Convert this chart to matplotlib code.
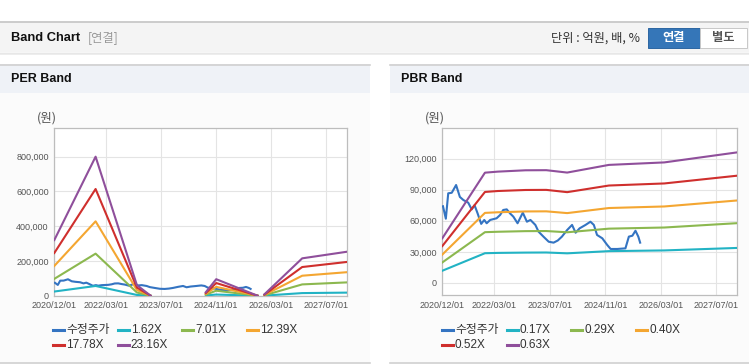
import matplotlib
matplotlib.use('Agg')
import matplotlib.pyplot as plt
import numpy as np
import pandas as pd
from matplotlib.patches import Rectangle
from matplotlib.lines import Line2D

W, H = 749, 364
nan = np.nan

# 수정주가 (adjusted price), same series on both charts
price_dates = ['2020-12-07', '2021-01-01', '2021-01-22', '2021-02-22', '2021-04-01', '2021-05-04',
               '2021-06-04', '2021-07-16', '2021-08-16', '2021-09-10', '2021-10-07', '2021-11-07',
               '2021-12-04', '2021-12-25', '2022-01-25', '2022-03-22', '2022-04-22', '2022-05-19',
               '2022-06-19', '2022-07-19', '2022-08-16', '2022-09-22', '2022-11-07', '2022-12-13',
               '2023-01-13', '2023-02-25', '2023-03-25', '2023-05-07', '2023-06-22', '2023-08-04',
               '2023-09-10', '2023-10-16', '2023-12-01', '2024-01-13', '2024-02-13', '2024-03-19',
               '2024-05-10', '2024-06-22', '2024-07-22', '2024-08-19', '2024-10-04', '2024-11-16',
               '2024-12-16', '2025-02-13', '2025-04-25', '2025-05-25', '2025-06-25', '2025-07-22',
               '2025-08-16', '2025-09-01']
price = [74000, 62000, 86500, 87000, 94500, 83000,
         80000, 77500, 71000, 75000, 67000, 57000,
         60800, 57600, 60800, 62400, 65600, 70400,
         71000, 67000, 64000, 57600, 67800, 59100,
         60800, 56000, 49500, 44700, 39800, 38900,
         41000, 44700, 51100, 56000, 48500, 52700,
         56000, 59100, 56000, 46300, 43100, 36700,
         32800, 32800, 33400, 44700, 45600, 50400,
         44700, 38900]

# PER band (nan = gap)
per_dates = ['2020-12-01', '2021-12-01', '2022-12-01', '2023-04-01', '2023-12-01',
             '2024-08-01', '2024-11-01', '2025-11-01', '2025-12-01',
             '2026-01-01', '2026-12-01', '2028-01-01']
per_labels = ['1.62X', '7.01X', '12.39X', '17.78X', '23.16X']
per_1 = [24000, 56000, 4300, 0, nan, 1400, 6600, 0, nan, 600, 15000, 17700]
per_2 = [96900, 242000, 18500, 0, nan, 6000, 28800, 0, nan, 2400, 65000, 76600]
per_3 = [171200, 428000, 32600, 0, nan, 10700, 50800, 0, nan, 4300, 115000, 135300]
per_4 = [245600, 614000, 46800, 0, nan, 15400, 72900, 0, nan, 6100, 165000, 194200]
per_5 = [320000, 800000, 61000, 0, nan, 20000, 95000, 0, nan, 8000, 215000, 253000]

# PBR band
pbr_dates = ['2020-12-01', '2021-12-10', '2022-04-01', '2022-12-01', '2023-06-01',
             '2023-12-01', '2024-12-01', '2026-04-01', '2028-01-01']
pbr_labels = ['0.17X', '0.29X', '0.40X', '0.52X', '0.63X']
pbr_1 = [11800, 28700, 29000, 29300, 29400, 28600, 30700, 31400, 33800]
pbr_2 = [19800, 49000, 49400, 50000, 50100, 48900, 52400, 53500, 57700]
pbr_3 = [27400, 67600, 68200, 69000, 69100, 67400, 72300, 73800, 79600]
pbr_4 = [35600, 87800, 88700, 89700, 89800, 87600, 94000, 96000, 103500]
pbr_5 = [43100, 106400, 107400, 108700, 108800, 106500, 113900, 116300, 126000]

xtick_dates = ['2020-12-01', '2022-03-01', '2023-07-01', '2024-11-01', '2026-03-01', '2027-07-01']
colors = ['#3474c2', '#22b3c4', '#8cb84f', '#f4a631', '#cf2f2d', '#8f4f9b']

LAT = ['Liberation Sans', 'Noto Sans CJK KR', 'DejaVu Sans']
KR = ['Noto Sans CJK KR', 'DejaVu Sans']

fig = plt.figure(figsize=(W / 100, H / 100), dpi=100)
fig.patch.set_facecolor('white')


def box(x0, y0, x1, y1, fc, ec='none', lw=0, z=-5):
    fig.patches.append(Rectangle((x0 / W, 1 - y1 / H), (x1 - x0) / W, (y1 - y0) / H,
                                 transform=fig.transFigure, facecolor=fc, edgecolor=ec,
                                 linewidth=lw, zorder=z))


def hline(x0, x1, y, color, lw=1):
    fig.lines.append(Line2D([x0 / W, x1 / W], [1 - y / H, 1 - y / H], transform=fig.transFigure,
                            color=color, linewidth=lw, zorder=-4))


def txt(x, y, s, **kw):
    fig.text(x / W, 1 - y / H, s, va='center', **kw)


# header bar
box(0, 22, W, 52, '#f4f4f4')
hline(0, W, 22, '#c4c4c4', 1.2)
hline(0, W, 52.5, '#d2d2d2', 1.0)
hline(0, W, 54, '#ececec', 1.2)
txt(11, 38, 'Band Chart', family=LAT, fontsize=9.3, fontweight='bold', color='#111111')
txt(88, 38, '[연결]', family=KR, fontsize=8.8, color='#999999')
txt(551, 38, '단위 : 억원, 배, %', family=KR, fontsize=8.8, color='#333333')
box(648, 28, 700, 48, '#3576b8', ec='#2c66a2', lw=0.7, z=-3)
box(700, 28, 747, 48, '#ffffff', ec='#c8c8c8', lw=0.7, z=-3)
txt(674, 38, '연결', family=KR, fontsize=8.8, fontweight='bold', color='white', ha='center')
txt(723.5, 38, '별도', family=KR, fontsize=8.8, fontweight='bold', color='#555555', ha='center')

# panels
for px0, px1 in [(0, 370), (390, W)]:
    box(px0, 64, px1, 93, '#eff2f7')
    box(px0, 93, px1, 362, '#fbfbfb')
    hline(px0, px1, 64.5, '#d0d0d0', 1.2)
    hline(px0, px1, 362.5, '#d0d0d0', 1.2)
txt(11, 79, 'PER Band', family=LAT, fontsize=9, fontweight='bold', color='#111111')
txt(401, 79, 'PBR Band', family=LAT, fontsize=9, fontweight='bold', color='#111111')


def band_chart(left, right, top, bottom, dates, bands, labels, ylim, yticks, lx0):
    ax = fig.add_axes([left / W, 1 - bottom / H, (right - left) / W, (bottom - top) / H])
    ax.set_facecolor('white')
    ax.plot(pd.to_datetime(price_dates), price, color=colors[0], lw=1.5, zorder=3)
    d = pd.to_datetime(dates)
    for i, b in enumerate(bands):
        ax.plot(d, b, color=colors[i + 1], lw=1.5, zorder=3)
    ax.set_xlim(pd.Timestamp('2020-12-01'), pd.Timestamp('2028-01-01'))
    ax.set_ylim(*ylim)
    ax.set_yticks(yticks)
    ax.set_yticklabels([f'{v:,}' for v in yticks])
    xt = pd.to_datetime(xtick_dates)
    ax.set_xticks(xt)
    ax.set_xticklabels([t.strftime('%Y/%m/%d') for t in xt])
    ax.grid(True, color='#e4e4e4', lw=0.8)
    ax.set_axisbelow(True)
    for s in ax.spines.values():
        s.set_color('#bdbdbd')
        s.set_linewidth(0.9)
    ax.tick_params(length=0, labelsize=6.5, labelcolor='#555555', pad=4)
    for lab in ax.get_xticklabels() + ax.get_yticklabels():
        lab.set_family(LAT)
    txt(left - 17, 118, '(원)', family=KR, fontsize=9, color='#555555')
    # legend, 4 equal columns
    names = ['수정주가'] + labels
    for i, name in enumerate(names):
        x = lx0 + (i % 4) * 64.7
        y = 330 + (i // 4) * 15
        hline(x, x + 11, y, colors[i], 2.2)
        txt(x + 13, y, name, family=LAT, fontsize=8.5, color='#333333')
    return ax


band_chart(54.3, 347, 128, 295.7, per_dates, [per_1, per_2, per_3, per_4, per_5], per_labels,
           (0, 965000), [0, 200000, 400000, 600000, 800000], 53)
band_chart(442.3, 737.3, 128.3, 295, pbr_dates, [pbr_1, pbr_2, pbr_3, pbr_4, pbr_5], pbr_labels,
           (-11600, 149200), [0, 30000, 60000, 90000, 120000], 442)

fig.savefig('out.png', dpi=100)
